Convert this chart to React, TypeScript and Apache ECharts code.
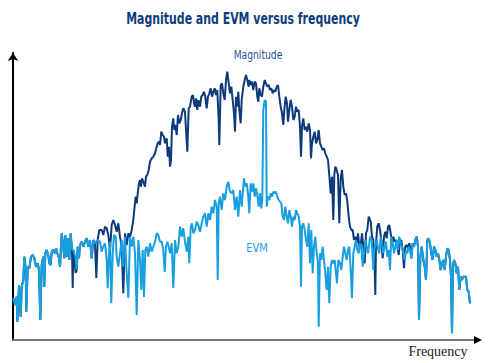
import React, { useEffect, useRef } from "react";
import * as echarts from "echarts";

// Frequency (relative units along the axis) and level above the axis.
const evmPoints: [number, number][] = [
  [0.3,41.7],[2,35],[3.7,43.3],[4.3,18.3],[6,55],[7.7,23.3],[8.7,53.3],[10.3,60],[11.3,83.3],[12.7,71.7],[13.3,28.3],[14.7,73.3],[16.3,71.7],[18,83.3],[19.7,85],[21.3,81.7],[23,73.3],[24.7,76.7],[26,70],[27.3,20],[28.7,75],[30.3,83.3],[31.3,53.3],[32.3,86.7],[33.7,90],[35.3,85],[36.3,76.7],[37.7,75],[38.7,88.3],[40.3,90],[42,86.7],[43,91.7],[44.3,86.7],[46,81.7],[47,73.3],[48.7,106.7],[50.3,93.3],[51.3,81.7],[52.3,105],[53.7,83.3],[55,101.7],[56.3,80],[57.7,106.7],[59,90],[60.3,90],[62.7,81.7],[63.7,70],[64.7,93.3],[66,81.7],[67,95],[68.7,98.3],[70.3,93.3],[72,98.3],[73.7,101.7],[75.3,93.3],[77,100],[78.7,81.7],[80.3,100],[82,96.7],[84.7,100],
  [87,98.3],[88.7,88.3],[90.3,93.3],[92,96.7],[93.7,80],[94.7,51.7],[96,86.7],[97,98.3],[98.3,36.7],[99.7,86.7],[101,105],[102.7,103.3],[103.7,83.3],[105.3,73.3],[107,86.7],[108.7,100],[110.3,73.3],[112,103.3],[113.7,66.7],[115.3,42],[117,103.3],[118.7,93.3],[120.3,103.3],[122,86.7],[123.7,25],[125.3,100],[127,80],[128.3,50],[129.7,90],[131,43],[132.3,90],[133.7,93.3],[135.3,83.3],[137,96.7],[138.7,88.3],[140.3,93.3],[142,98.3],[143.7,106.7],[145.3,105],[147,98.3],[148.7,98.3],[150.3,90],[151.7,68],[153,93.3],[154.3,98.3],[155.7,93.3],[157,86.7],[158.7,96.7],[160.3,52],[162,100],[163.7,86.7],[165.3,93.3],[167,113.3],[168.7,103.3],[170.3,111.7],[172,98.3],[173.7,88.3],[175.3,103.3],[176.3,76.7],[177.7,113.3],[179,116.7],[180.3,106.7],[182,110],[183.7,118.3],[185.3,115],[187,108.3],[188.7,116.7],[190.3,123.3],[192,126.7],[193.7,113.3],[195.3,126.7],[197,120],[198.7,133.3],[200.3,126.7],[202,140],[203.7,133.3],[204.7,60],[205.7,136.7],[207,143.3],[208.7,130],[210.3,146.7],[212,140],[213.7,153.3],[215.3,158.3],[217,148.3],[218.7,146.7],[220.3,150],[222,130],[223.7,143.3],[225.3,123.3],[227,150],[228.7,133.3],[230.3,153.3],[231,161.7],[232.3,153.3],[233.7,156.7],[235,146.7],[236.3,126.7],[237.7,156.7],[239,148.3],[240.3,156.7],[241.7,143.3],[243,151.7],[244.3,145],[245.7,133.3],[247,146.7],[248.3,131.7],[249.3,140],[250.3,230],[251.7,240],[253,238.3],[253.7,133.3],[255,143.3],[256.3,140],[257.7,146.7],[259,143.3],[260.3,148.3],[261.7,146.7],[263,148.3],[264.3,143.3],[265.7,140],[267,138.3],[268.3,136.7],[269.7,123.3],[271,120],[272.3,133.3],[273.7,123.3],[275,116.7],[276.3,130],[277.7,123.3],[279,113.3],[280.3,123.3],[281.7,120],[283,130],[284.3,126.7],[285.7,123.3],[287,113.3],[288,53.3],[289,113.3],[290.3,116.7],[291.7,110],[293,100],[294.3,93.3],[295.7,116.7],[297,76.7],[298.3,110],[299.7,66.7],[301,93.3],[302.3,103.3],[303.7,86.7],[305,76.7],[305.7,13.3],[307,86.7],[308.3,80],[309.7,93.3],[311,80],[312.3,66.7],[313.7,50],[315,73.3],[316.3,36.7],[317.7,73.3],[319,80],[320.3,76.7],[321.7,80],[323,66.7],[324,56.7],[325.3,80],[327,76.7],[328.3,70],[329.7,83.3],[331,93.3],[332.3,86.7],[333.7,80],[335,90],[336.3,93.3],[337.7,70],[339,41.7],[340.3,86.7],[341.7,93.3],[343,100],[344.3,90],[345.7,86.7],[347,96.7],[348.3,93.3],[349.7,73.3],[351,86.7],[352.3,100],[353.7,93.3],[355,86.7],[356.3,96.7],[357,103.3],[358.7,100],[360.3,70],[361.3,90],[362.7,96.7],[363.7,100],[365,91.7],[366.3,86.7],[367.7,103.3],[369,96.7],[370.3,86.7],[371.7,93.3],[373,98.3],[374.3,83.3],[375.7,90],[377,70],[378.3,103.3],[379.7,96.7],[381,86.7],[382.3,93.3],[383.7,100],[385,90],[386.3,103.3],[387.7,96.7],[389,93.3],[390.3,86.7],[391.7,80],[393,90],[394.3,86.7],[395.7,93.3],[397,90],
  [398.3,81.7],[399.7,96.7],[401,93.3],[402.3,100],[403.7,103.3],[405,93.3],[406,20],[407.3,83.3],[408.7,93.3],[410.3,80],[411.7,73.3],[413,60],[414.3,100],[415.7,101.7],[417,96.7],[418.3,86.7],[419.7,80],[421,93.3],[422.3,90],[423.7,83.3],[425,86.7],[426.3,80],[427.7,70],[429,76.7],[430.3,80],[431.7,70],[433,83.3],[434.3,91.7],[435.7,90],[437,80],[438,63.3],[439,6.7],[440,73.3],[441,80],[442.3,76.7],[443.7,66.7],[445,73.3],[446.3,50],[447.7,63.3],[449,60],[450.3,63.3],[451.7,63.3],[453,63.3],[454.3,50],[455.7,48.3],[457,36.7]
];

// Where the magnitude trace departs from the EVM trace in the low band.
const magLowBandDips: [number, number][] = [[59.7, 52], [62.7, 67], [83.3, 62]];

// Magnitude trace in the middle band, where it rises above EVM.
const magMidPoints: [number, number][] = [
  [86.3,110],[88.7,110],[90.3,105],[92,113.3],[93.7,111.7],[95.3,105],[97,90],[98.7,115],[100.3,120],[102,115],[103.7,108.3],[105.3,116.7],[107,103.3],[108.7,93.3],[110.3,46.7],[112,106.7],[113.7,95],[115.3,106.7],[117,103.3],[118.7,110],[120.3,120],[121.3,130],[122.7,143.3],[123.7,136.7],[124.7,146.7],[126,156.7],[127,160],[128,153.3],[129,161.7],[130.3,158.3],[132,153.3],[133,163.3],[134.3,165],[135.7,170],[137,178.3],[138.7,181.7],[140.3,183.3],[142,186.7],[143.7,193.3],[144.7,196.7],[146,198.3],[147,195],[148.3,208.3],[149.7,205],[151,203.3],[152,196.7],[153.7,201.7],[154.7,183.3],[156,193.3],[157,173.3],[158,180],[159,213.3],[160.3,221.7],[161.3,210],[162.3,215],[163.7,205],[165,225],[166.3,216.7],[167.7,220],[169,226.7],[170.3,231.7],[172,228.3],[173,210],[174.3,188.3],[175.7,231.7],[177,233.3],[178.7,243.3],[180,245],[181,236.7],[182,233.3],[183,241.7],[184.3,230],[185.3,240],[187,233.3],[188.3,243.3],[189.7,245],[191,248.3],[192.3,243.3],[193.7,231.7],[195,243.3],[196.3,246.7],[197.7,251.7],[199,243.3],[200.3,248.3],[201.7,251.7],[203,245],[204.3,250],[205.7,220],[206.3,195],[207.7,255],[209,256.7],[210.3,246.7],[211.7,240],[213,260],[214.3,268.3],[215.7,256.7],[217,246.7],[218.3,253.3],[219.7,240],[221,226.7],[222,208.3],[223,243.3],[224.3,233.3],[225.3,248.3],[226.3,230],[227.7,216.7],[228.7,240],[230.3,253.3],[231.7,260],[233,265],[234.3,260],[235.7,253.3],[236.3,260],[237.7,255],[239,258.3],[240.3,250],[241.7,258.3],[243,256.7],[244.3,243.3],[245.3,238.3],[246.3,251.7],[247.7,245],[249,243.3],[250.3,253.3],[251.7,260],[253,256.7],[254.3,253.3],[255.7,255],[257,250],[258.3,251.7],[259.7,246.7],[261,250],[262.3,248.3],[263.7,253.3],[265,255],[266.3,243.3],[267.7,233.3],[269,226.7],[270.3,215],[271.3,230],[272.7,243.3],[274,236.7],[275,218.3],[276.3,230],[277.7,240],[279,233.3],[280.3,220],[281.7,223.3],[283,233.3],[284.3,228.3],[285.7,230],[287,213.3],[288,183.3],[289,213.3],[290.3,221.7],[291.7,210],[293,213.3],[294.3,208.3],[295.7,216.7],[297,210],[298,181.7],[299,196.7],[300.3,203.3],[301.7,208.3],[303,196.7],[304.3,200],[305.7,210],[307,196.7],[308.3,193.3],[309.7,190],[311,191.7],[312.3,186.7],[313.7,183.3],[315,180],[316.3,165],[317.7,146.7],[319,163.3],[320.3,120],[321.3,165],[322.3,173.3],[323.7,170],[325,165],[326.3,116.7],[327.7,161.7],[329,170],[330.3,153.3],[331.7,145],[333,146.7],[334.3,138.3],[335.7,123.3],[337,113.3],[338.3,110],[339.7,110],[341,100],[342.3,103.3],[343.7,96.7],[345,106.7],[346.3,93.3],[347.7,95],[349,106.7],[350.3,93.3],[351.7,76.7],[353,106.7],[354.3,110],[355.7,123.3],[357,120],[357.7,118.3],[359,103.3],[360.3,100],[361.7,73.3],[362.3,45],[363,96.7],[364.3,113.3],[365.7,116.7],[367,110],[368.3,100],[369.7,81.7],[371,103.3],[372.3,108.3],[373.7,101.7],[375,113.3],[376.3,115],[377.7,106.7],[379,96.7],[380.3,103.3],[381.7,98.3],[383,100],[384.3,93.3],[385.7,85],[387,98.3],[388.3,100],[389.7,90],[391,71.7],[392.3,93.3],[393.7,95],[395,91.7],[396.3,96.7],[397.7,90]
];

const chartTitle = "Magnitude and EVM versus frequency";
const magnitudeName = "Magnitude";
const evmName = "EVM";
const xAxisName = "Frequency";

const NAVY = "#0c3a7a";
const LIGHT = "#179fe0";
const SANS = "'Liberation Sans Narrow', 'DejaVu Sans Condensed', 'DejaVu Sans', sans-serif";

function buildMagnitude(): [number, number][] {
  const dipF = new Set(magLowBandDips.map((p) => p[0]));
  const low = evmPoints.filter((p) => p[0] < 86 && !dipF.has(p[0])).concat(magLowBandDips);
  low.sort((a, b) => a[0] - b[0]);
  const high = evmPoints.filter((p) => p[0] > 398);
  return low.concat(magMidPoints, high);
}

export default function App() {
  const ref = useRef<HTMLDivElement>(null);
  useEffect(() => {
    if (!ref.current) return;
    const chart = echarts.init(ref.current, undefined, { renderer: "svg" });
    chart.setOption({
      animation: false,
      backgroundColor: "#ffffff",
      grid: { left: 13, right: 21, top: 53, bottom: 23 },
      xAxis: {
        type: "value",
        min: 0,
        max: 463,
        axisLine: { show: true, onZero: false, lineStyle: { color: "#777777", width: 2 } },
        axisTick: { show: false },
        axisLabel: { show: false },
        splitLine: { show: false },
      },
      yAxis: {
        type: "value",
        min: 0,
        max: 287,
        axisLine: {
          show: true,
          lineStyle: { color: "#000000", width: 2 },
          symbol: ["none", "arrow"],
          symbolSize: [8, 8],
        },
        axisTick: { show: false },
        axisLabel: { show: false },
        splitLine: { show: false },
      },
      series: [
        {
          name: magnitudeName,
          type: "line",
          data: buildMagnitude(),
          showSymbol: false,
          symbol: "none",
          lineStyle: { color: NAVY, width: 2 },
          z: 2,
        },
        {
          name: evmName,
          type: "line",
          data: evmPoints,
          showSymbol: false,
          symbol: "none",
          lineStyle: { color: LIGHT, width: 2 },
          z: 3,
        },
      ],
      graphic: [
        {
          type: "polygon",
          shape: { points: [[474, 336], [482, 340], [474, 344]] },
          style: { fill: "#000000" },
          z: 10,
        },
        {
          type: "text",
          x: 243,
          y: 18,
          scaleX: 0.76,
          style: { text: chartTitle, fill: "#0d3c7c", font: `bold 16px ${SANS}`, align: "center", verticalAlign: "middle" },
        },
        {
          type: "text",
          x: 258,
          y: 55,
          scaleX: 0.85,
          style: { text: magnitudeName, fill: "#1b4f98", font: `12px ${SANS}`, align: "center", verticalAlign: "middle" },
        },
        {
          type: "text",
          x: 257,
          y: 248,
          scaleX: 0.92,
          style: { text: evmName, fill: LIGHT, font: `12px ${SANS}`, align: "center", verticalAlign: "middle" },
        },
        {
          type: "text",
          x: 438,
          y: 351,
          style: { text: xAxisName, fill: "#222222", font: `14px 'Liberation Serif', 'DejaVu Serif', serif`, align: "center", verticalAlign: "middle" },
        },
      ],
    });
    return () => chart.dispose();
  }, []);
  return (
    <div
      ref={ref}
      style={{ position: "fixed", left: 0, top: 0, width: 497, height: 363, background: "#fff" }}
    />
  );
}
